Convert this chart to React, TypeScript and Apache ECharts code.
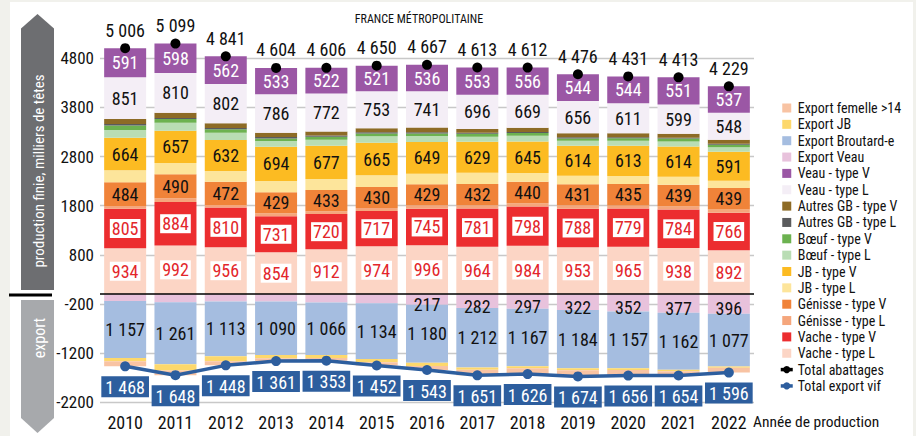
import React, { useEffect, useRef } from 'react';
import * as echarts from 'echarts';

// ---------- data ----------
const years = ['2010', '2011', '2012', '2013', '2014', '2015', '2016', '2017', '2018', '2019', '2020', '2021', '2022'];
const yTicks = [4800, 3800, 2800, 1800, 800, -200, -1200, -2200];

// production (positive stack, bottom to top)
const vacheL = [934, 992, 956, 854, 912, 974, 996, 964, 984, 953, 965, 938, 892];
const vacheV = [805, 884, 810, 731, 720, 717, 745, 781, 798, 788, 779, 784, 766];
const genisseL = [57, 75, 50, 61, 57, 61, 67, 66, 67, 67, 61, 68, 63];
const genisseV = [484, 490, 472, 429, 433, 430, 429, 432, 440, 431, 435, 439, 439];
const jbL = [240, 230, 218, 230, 224, 236, 213, 228, 175, 169, 166, 161, 149];
const jbV = [664, 657, 632, 694, 677, 665, 649, 629, 645, 614, 613, 614, 591];
const boeufL = [155, 160, 148, 116, 122, 130, 122, 102, 115, 99, 102, 102, 88];
const boeufV = [95, 75, 68, 55, 60, 55, 47, 61, 55, 47, 54, 61, 55];
const autresL = [30, 20, 27, 27, 25, 27, 27, 20, 20, 27, 20, 15, 20];
const autresV = [100, 108, 96, 88, 82, 81, 95, 81, 88, 81, 81, 81, 81];
const veauL = [851, 810, 802, 786, 772, 753, 741, 696, 669, 656, 611, 599, 548];
const veauV = [591, 598, 562, 533, 522, 521, 536, 553, 556, 544, 544, 551, 537];
const totalAbattages = [5006, 5099, 4841, 4604, 4606, 4650, 4667, 4613, 4612, 4476, 4431, 4413, 4229];

// export (negative stack, from zero downwards)
const exportVeau = [140, 165, 150, 150, 170, 185, 217, 282, 297, 322, 352, 377, 396];
const exportBroutard = [1157, 1261, 1113, 1090, 1066, 1134, 1180, 1212, 1167, 1184, 1157, 1162, 1077];
const exportJB = [70, 127, 100, 65, 60, 65, 65, 45, 45, 40, 35, 30, 25];
const exportFemelle = [101, 95, 85, 56, 57, 68, 81, 112, 117, 128, 112, 85, 98];
const totalExportVif = [1468, 1648, 1448, 1361, 1353, 1452, 1543, 1651, 1626, 1674, 1656, 1654, 1596];

const FONT = "'Liberation Sans Narrow','Roboto Condensed','DejaVu Sans Condensed','Liberation Sans',sans-serif";

const fmt = (v: number) => {
  const a = Math.abs(Math.round(v));
  return a >= 1000 ? `${Math.floor(a / 1000)} ${String(a % 1000).padStart(3, '0')}` : String(a);
};

const neg = (arr: number[]) => arr.map((v) => -v);

export default function App() {
  const ref = useRef<HTMLDivElement>(null);

  useEffect(() => {
    const chart = echarts.init(ref.current!, null, { renderer: 'svg' });

    const baseLabel = { fontFamily: FONT, fontSize: 18 };
    const darkLabel = { show: true, position: 'inside', color: '#111', ...baseLabel, formatter: (p: any) => fmt(p.value) };
    const whiteLabel = { show: true, position: 'inside', color: '#fff', ...baseLabel, formatter: (p: any) => fmt(p.value) };
    const redBoxLabel = {
      show: true, position: 'inside', color: '#e3262b', backgroundColor: '#fff', padding: [1, 2, 0, 2],
      ...baseLabel, formatter: (p: any) => fmt(p.value),
    };

    const bar = (name: string, data: number[], color: string, label: any = { show: false }) => ({
      name, type: 'bar', stack: 'total', data, barWidth: 42, itemStyle: { color },
      label, emphasis: { disabled: true }, silent: true,
    });

    const series: any[] = [
      bar('Vache - type L', vacheL, '#fcd5c5', redBoxLabel),
      bar('Vache - type V', vacheV, '#ec2d2f', redBoxLabel),
      bar('Génisse - type L', genisseL, '#f5a67c'),
      bar('Génisse - type V', genisseV, '#f08339', darkLabel),
      bar('JB - type L', jbL, '#fde59b'),
      bar('JB - type V', jbV, '#fcbb22', darkLabel),
      bar('Bœuf - type L', boeufL, '#b9ddb4'),
      bar('Bœuf - type V', boeufV, '#6cb250'),
      bar('Autres GB - type L', autresL, '#5a5b5d'),
      bar('Autres GB - type V', autresV, '#8d6b26'),
      bar('Veau - type L', veauL, '#f4eef6', darkLabel),
      bar('Veau - type V', veauV, '#9b57a5', whiteLabel),
      bar('Export Veau', neg(exportVeau), '#e8c2dc', {
        ...darkLabel, offset: [0, 5],
        formatter: (p: any) => (Math.abs(p.value) >= 200 ? fmt(p.value) : ''),
      }),
      bar('Export Broutard-e', neg(exportBroutard), '#a5bde0', darkLabel),
      bar('Export JB', neg(exportJB), '#fdd86c'),
      bar('Export femelle >14', neg(exportFemelle), '#f8c3a3'),
      {
        name: 'Total abattages', type: 'line', data: totalAbattages, z: 5,
        symbol: 'circle', symbolSize: 10, itemStyle: { color: '#000' },
        lineStyle: { width: 0, color: '#000' }, silent: true,
        label: { show: true, position: 'top', distance: 4, color: '#111', ...baseLabel, formatter: (p: any) => fmt(p.value) },
        markLine: {
          silent: true, symbol: 'none', label: { show: false },
          lineStyle: { color: '#000', width: 1.5, type: 'solid' },
          data: [{ yAxis: 0 }],
        },
      },
      {
        name: 'Total export vif', type: 'line', data: neg(totalExportVif), z: 6,
        symbol: 'circle', symbolSize: 10, itemStyle: { color: '#2d5e9e' },
        lineStyle: { width: 3.5, color: '#2d5e9e' }, silent: true,
        label: {
          show: true, position: 'bottom', distance: 5, color: '#fff', backgroundColor: '#2d5e9e',
          padding: [2, 4, 1, 4], ...baseLabel, formatter: (p: any) => fmt(p.value),
        },
      },
    ];

    const squareIcon = 'path://M0,0L9,0L9,9L0,9Z';
    const legendNames = [
      'Export femelle >14', 'Export JB', 'Export Broutard-e', 'Export Veau',
      'Veau - type V', 'Veau - type L', 'Autres GB - type V', 'Autres GB - type L',
      'Bœuf - type V', 'Bœuf - type L', 'JB - type V', 'JB - type L',
      'Génisse - type V', 'Génisse - type L', 'Vache - type V', 'Vache - type L',
    ];
    const legendData: any[] = legendNames.map((n) => ({ name: n, icon: squareIcon }));
    legendData.push({ name: 'Total abattages', lineStyle: { width: 3.5, color: '#000', opacity: 1 } });
    legendData.push({ name: 'Total export vif', lineStyle: { width: 3.5, color: '#2d5e9e', opacity: 1 } });

    const option: any = {
      animation: false,
      backgroundColor: 'transparent',
      textStyle: { fontFamily: FONT },
      grid: { left: 100, right: 162, top: 19, bottom: 33.7, containLabel: false },
      xAxis: {
        type: 'category', data: years,
        axisLine: { show: false }, axisTick: { show: false },
        axisLabel: { color: '#111', fontFamily: FONT, fontSize: 18, margin: 11 },
      },
      yAxis: {
        type: 'value', min: -2200, max: 5600, interval: 1000,
        axisLine: { show: false }, axisTick: { show: false },
        axisLabel: {
          color: '#111', fontFamily: FONT, fontSize: 17, margin: 6, showMaxLabel: false,
          formatter: (v: number) => (yTicks.includes(v) ? String(v) : ''),
        },
        splitLine: { show: true, showMaxLine: false, lineStyle: { color: '#c8c8c8', width: 1.3 } },
      },
      legend: {
        orient: 'vertical', left: 774, top: 96, itemWidth: 12, itemHeight: 9, itemGap: 2.35,
        textStyle: { color: '#111', fontFamily: FONT, fontSize: 14, lineHeight: 14 },
        data: legendData, selectedMode: false,
      },
      graphic: [
        { type: 'polygon', shape: { points: [[21, 28.5], [37.5, 14], [54, 28.5], [54, 290], [21, 290]] }, style: { fill: '#6d6e71' } },
        { type: 'polygon', shape: { points: [[21, 300], [54, 300], [54, 418], [37.5, 433], [21, 418]] }, style: { fill: '#a7a9ac' } },
        { type: 'line', shape: { x1: 9, y1: 295, x2: 52, y2: 295 }, style: { stroke: '#000', lineWidth: 3 } },
        {
          type: 'text', x: 39, y: 171, rotation: Math.PI / 2,
          style: { text: 'production finie, milliers de têtes', fill: '#fff', font: `15px ${FONT}`, textAlign: 'center', textVerticalAlign: 'middle' },
        },
        {
          type: 'text', x: 39, y: 338, rotation: Math.PI / 2,
          style: { text: 'export', fill: '#fff', font: `16px ${FONT}`, textAlign: 'center', textVerticalAlign: 'middle' },
        },
        {
          type: 'text', x: 419, y: 19,
          style: { text: 'FRANCE MÉTROPOLITAINE', fill: '#111', font: `12px ${FONT}`, textAlign: 'center', textVerticalAlign: 'middle' },
        },
        {
          type: 'text', x: 753, y: 422,
          style: { text: 'Année de production', fill: '#111', font: `15.5px ${FONT}`, textAlign: 'left', textVerticalAlign: 'middle' },
        },
      ],
      series,
    };

    chart.setOption(option);
    return () => chart.dispose();
  }, []);

  return (
    <div style={{ position: 'fixed', left: 0, top: 0, width: 916, height: 436, background: '#f1f1ec', overflow: 'hidden' }}>
      <div style={{ position: 'absolute', left: 10, top: 2, width: 903, height: 434, background: '#fff' }} />
      <div ref={ref} style={{ position: 'absolute', left: 0, top: 0, width: 916, height: 436 }} />
    </div>
  );
}
